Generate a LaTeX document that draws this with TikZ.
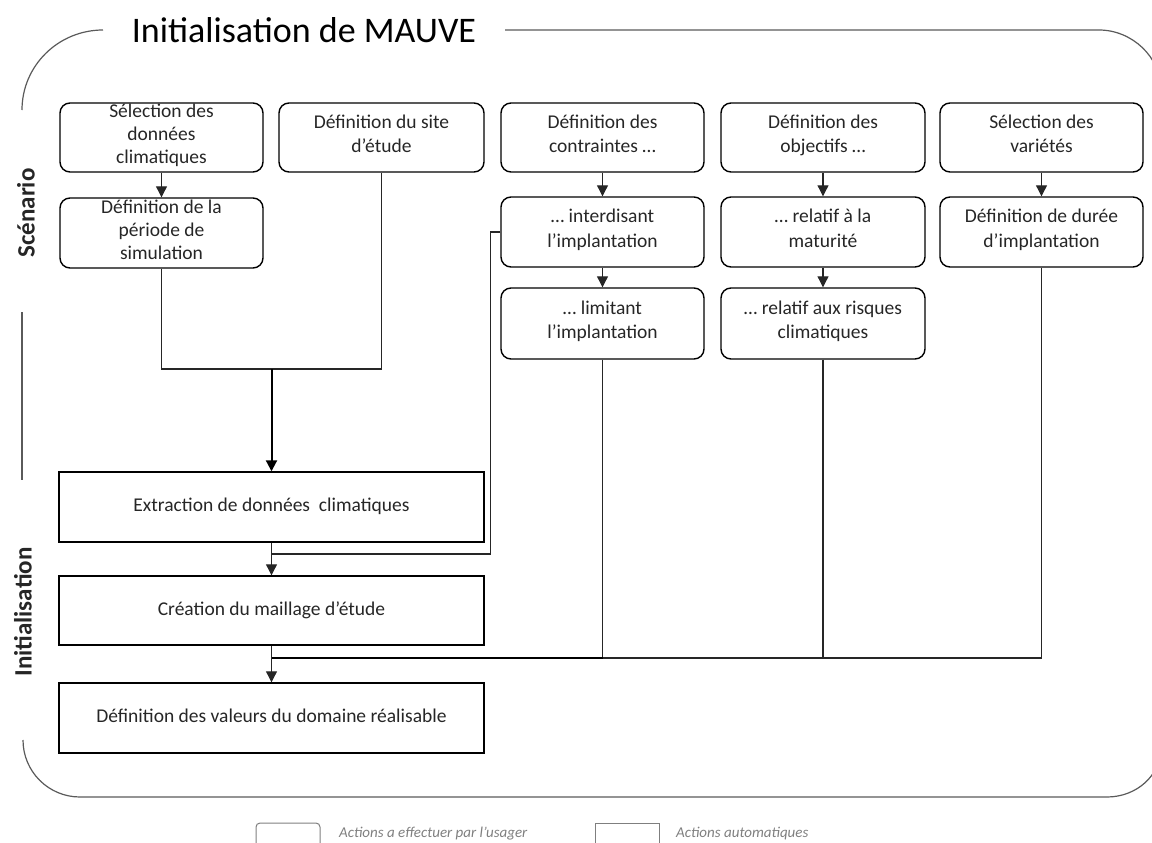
\documentclass[tikz,border=0pt]{standalone}
\usepackage{fontspec}
\setmainfont{Carlito}
\usetikzlibrary{arrows.meta}
\definecolor{txt}{HTML}{262626}
\definecolor{framec}{HTML}{5A5A5A}
\definecolor{legc}{HTML}{7F7F7F}
\begin{document}
\begin{tikzpicture}[x=1pt,y=-1pt,
  boxtext/.style={align=center,text=txt,font=\fontsize{19.5}{24.5}\selectfont,execute at begin node=\strut,execute at end node=\strut},
  userbox/.style={boxtext,draw=black,line width=1.4pt,rounded corners=10pt,minimum width=203pt,minimum height=69pt,inner sep=0pt},
  threeline/.style={font=\fontsize{19.5}{23}\selectfont,execute at begin node={},execute at end node={}},
  autobox/.style={boxtext,draw=black,line width=1.4pt,minimum width=425pt,minimum height=69pt,inner sep=0pt},
  conn/.style={draw=black!85,line width=1.1pt},
  arr/.style={conn,-{Triangle[width=11pt,length=11pt]}},
  thickarr/.style={draw=black,line width=2pt,-{Triangle[width=11pt,length=11pt]}},
  framel/.style={draw=framec,line width=1.2pt},
  sidelabel/.style={rotate=90,font=\fontsize{25}{25}\selectfont\bfseries,text=txt,inner sep=0pt},
  legbox/.style={draw=legc,line width=1pt,minimum width=64pt,minimum height=34pt,inner sep=0pt},
  legtext/.style={anchor=west,text=legc,font=\fontsize{15}{15}\selectfont\itshape,inner sep=0pt}
]
\useasboundingbox (0,0) rectangle (1152,843);
% frame
\draw[framel] (22,110) .. controls (22,65.5) and (58.5,30) .. (103,30);
\draw[framel] (505,30) -- (1099,30) .. controls (1132,30) and (1161,57) .. (1161,90) -- (1161,747) .. controls (1161,776) and (1136,797) .. (1107,797) -- (80,797) .. controls (48.5,797) and (23,771.5) .. (23,740);
\draw[framel] (22,312) -- (22,480);
\node[font=\fontsize{36}{36}\selectfont,text=black,inner sep=0pt] (title) at (304,30) {Initialisation de MAUVE};
\node[sidelabel] (scen) at (26,213) {Scénario};
\node[sidelabel] (init) at (23,612) {Initialisation};
% row 1
\node[userbox,threeline] (A) at (161.5,137.5) {Sélection des\\données\\climatiques};
\node[userbox,minimum width=205pt] (B) at (381.5,137.5) {Définition du site\\d’étude};
\node[userbox] (C) at (602.5,137.5) {Définition des\\contraintes …};
\node[userbox,minimum width=204pt] (D) at (823,137.5) {Définition des\\objectifs …};
\node[userbox] (E) at (1041.5,137.5) {Sélection des\\variétés};
% row 2
\node[userbox,threeline,minimum height=70pt] (A2) at (161.5,233) {Définition de la\\période de\\simulation};
\node[userbox,minimum height=70pt] (C2) at (602.5,232) {… interdisant\\l’implantation};
\node[userbox,minimum width=204pt,minimum height=70pt] (D2) at (823,232) {… relatif à la\\maturité};
\node[userbox,minimum height=70pt] (E2) at (1041.5,232) {Définition de durée\\d’implantation};
% row 3
\node[userbox,minimum height=71pt] (C3) at (602.5,323.5) {… limitant\\l’implantation};
\node[userbox,minimum width=204pt,minimum height=71pt] (D3) at (823,323.5) {… relatif aux risques\\climatiques};
% automatic boxes
\node[autobox,minimum height=70pt] (Ext) at (271.5,507) {Extraction de données\ \ climatiques};
\node[autobox] (Cre) at (271.5,610.5) {Création du maillage d’étude};
\node[autobox,minimum height=70pt] (Val) at (271.5,718) {Définition des valeurs du domaine réalisable};
% arrows between user boxes
\draw[arr] (A.south) -- (A2.north);
\draw[arr] (C.south) -- (C2.north);
\draw[arr] (D.south) -- (D2.north);
\draw[arr] (E.south) -- (E2.north);
\draw[arr] (C2.south) -- (C3.north);
\draw[arr] (D2.south) -- (D3.north);
% junctions
\coordinate (j1) at (271.5,369);
\coordinate (j2) at (271.5,554);
\coordinate (j3) at (271.5,658);
\draw[conn] (A2.south) |- (j1) -| (B.south);
\draw[thickarr] (j1) -- (Ext.north);
\draw[conn] (C2.west) -- ++(-10,0) |- (j2);
\draw[arr] (Ext.south) -- (Cre.north);
\draw[conn] (E2.south) |- (j3);
\draw[conn] (C3.south) -- (C3.south |- j3);
\draw[conn] (D3.south) -- (D3.south |- j3);
\draw[draw=black,line width=2pt] (j3) -- (C3.south |- j3);
\draw[arr] (Cre.south) -- (Val.north);
% legend
\node[legbox,rounded corners=4pt] (L1) at (288,840) {};
\node[legtext] (L1t) at (339,834) {Actions a effectuer par l’usager};
\node[legbox] (L2) at (627.5,840) {};
\node[legtext] (L2t) at (676,834) {Actions automatiques};
\end{tikzpicture}
\end{document}
